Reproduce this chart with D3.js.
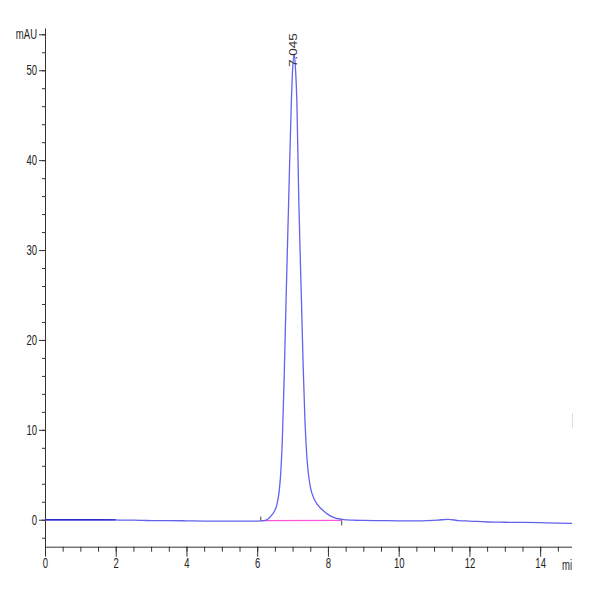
<!DOCTYPE html>
<html>
<head>
<meta charset="utf-8">
<script src="https://cdn.jsdelivr.net/npm/d3@7"></script>
<style>
  body { margin: 0; background: #ffffff; }
  text { font-family: "Liberation Sans Narrow", "Arial Narrow", "Liberation Sans", sans-serif; }
</style>
</head>
<body>
<div id="chart"></div>
<script>
// retention time (min) and signal (mAU)
var times = [0, 0.5, 1, 1.5, 2, 2.2, 2.5, 2.8, 3, 3.5, 4, 4.5, 5, 5.5, 6, 6.2, 6.3, 6.41, 6.55, 6.625,
  6.67, 6.71, 6.76, 6.816, 6.89, 6.967, 7.0, 7.045, 7.085, 7.12, 7.175, 7.25, 7.3, 7.35, 7.4, 7.45, 7.51,
  7.6, 7.7, 7.87, 8.0, 8.14, 8.39, 8.7, 9, 9.5, 10, 10.5, 10.8, 11.1, 11.4, 11.7, 12, 12.5, 13, 13.5,
  14, 14.5, 14.9];
var signal = [0, 0, 0, 0, -0.02, -0.05, -0.05, -0.08, -0.1, -0.1, -0.12, -0.15, -0.15, -0.15, -0.15, -0.1, 0.05, 0.5, 1.6, 3.3,
  5.5, 8.9, 15.5, 24.5, 35.6, 46.7, 50.0, 51.8, 50.0, 46.7, 35.6, 24.5, 17, 11, 7.2, 5.0, 3.5,
  2.4, 1.7, 1.0, 0.6, 0.3, 0.05, -0.05, -0.08, -0.1, -0.12, -0.12, -0.1, -0.05, 0.05, -0.1, -0.15, -0.25, -0.28, -0.3,
  -0.33, -0.37, -0.4];

// integration baseline of the peak
var baseTimes = [6.1, 8.39];
var baseValues = [-0.1, -0.08];

var peakLabel = "7.045";
var peakTime = 7.045;

var xMajorTicks = [0, 2, 4, 6, 8, 10, 12, 14];
var yMajorTicks = [0, 10, 20, 30, 40, 50];
var yUnitTick = 54;
var xUnit = "min";
var yUnit = "mAU";

function drawChromatogram() {
  var width = 600,
    height = 600;
  var left = 45,
    right = 572,
    top = 28,
    bottom = 546.7;
  var squeeze = 0.68; // narrow label font

  var svg = d3
    .select("#chart")
    .append("svg")
    .attr("width", width)
    .attr("height", height);

  var x = d3.scaleLinear().domain([0, 14.9]).range([left, right]);
  var y = d3.scaleLinear().domain([-3, 54.7]).range([bottom, top]);

  var axisColor = "#333333";

  // y axis - minor ticks every 2 mAU
  svg
    .append("g")
    .attr("transform", "translate(" + left + ",0)")
    .call(
      d3.axisLeft(y).tickValues(d3.range(-2, 55, 2)).tickSize(3).tickSizeOuter(0).tickFormat("")
    )
    .call(function (g) {
      g.selectAll("path, line").attr("stroke", axisColor);
    });

  // y axis - major ticks with labels
  var yMajor = svg
    .append("g")
    .attr("transform", "translate(" + left + ",0)")
    .call(
      d3.axisLeft(y).tickValues(yMajorTicks.concat([yUnitTick])).tickSize(6).tickSizeOuter(0)
        .tickFormat(function (d) {
          return d == yUnitTick ? yUnit : d;
        })
    );
  yMajor.select(".domain").remove();
  yMajor.selectAll("line").attr("stroke", axisColor);
  yMajor
    .selectAll("text")
    .attr("x", -8 / squeeze)
    .attr("transform", "scale(" + squeeze + ",1)")
    .attr("font-size", "14px")
    .attr("fill", "#222222");

  // x axis - minor ticks every 0.5 min
  svg
    .append("g")
    .attr("transform", "translate(0," + bottom + ")")
    .call(
      d3.axisBottom(x).tickValues(d3.range(0, 14.9, 0.5)).tickSize(5).tickSizeOuter(0).tickFormat("")
    )
    .call(function (g) {
      g.selectAll("path, line").attr("stroke", axisColor);
    });

  var xMajor = svg
    .append("g")
    .attr("transform", "translate(0," + bottom + ")")
    .call(d3.axisBottom(x).tickValues(xMajorTicks).tickSize(10).tickSizeOuter(0).tickPadding(1));
  xMajor.select(".domain").remove();
  xMajor.selectAll("line").attr("stroke", axisColor);
  xMajor
    .selectAll("text")
    .attr("transform", "scale(" + squeeze + ",1)")
    .attr("font-size", "14px")
    .attr("fill", "#222222");

  // unit on the x axis (cut by the frame edge)
  svg
    .append("text")
    .attr("transform", "translate(" + (right - 10) + "," + (bottom + 23) + ") scale(" + squeeze + ",1)")
    .attr("font-size", "14px")
    .attr("fill", "#222222")
    .text(xUnit);

  var data = times.map(function (t, i) {
    return { t: t, v: signal[i] };
  });

  var line = d3
    .line()
    .x(function (d) { return x(d.t); })
    .y(function (d) { return y(d.v); })
    .curve(d3.curveMonotoneX);

  // baseline
  svg
    .append("line")
    .attr("x1", x(baseTimes[0]))
    .attr("x2", x(baseTimes[1]))
    .attr("y1", y(baseValues[0]))
    .attr("y2", y(baseValues[1]))
    .attr("stroke", "#ff55dd")
    .attr("stroke-width", 1.3);

  // baseline start / end marks
  svg
    .append("line")
    .attr("x1", x(baseTimes[0]))
    .attr("x2", x(baseTimes[0]))
    .attr("y1", y(baseValues[0]))
    .attr("y2", y(baseValues[0]) - 4)
    .attr("stroke", "#444444");
  svg
    .append("line")
    .attr("x1", x(baseTimes[1]))
    .attr("x2", x(baseTimes[1]))
    .attr("y1", y(baseValues[1]))
    .attr("y2", y(baseValues[1]) + 5)
    .attr("stroke", "#444444");

  // signal trace
  svg
    .append("path")
    .datum(data)
    .attr("d", line)
    .attr("fill", "none")
    .attr("stroke", "#6262ee")
    .attr("stroke-width", 1.3);

  // darker start of the run
  svg
    .append("path")
    .datum(data.filter(function (d) { return d.t <= 2; }))
    .attr("d", line)
    .attr("fill", "none")
    .attr("stroke", "#2a2ac8")
    .attr("stroke-width", 1.3);

  // retention time label
  svg
    .append("text")
    .attr("transform", "translate(" + (x(peakTime) + 3) + "," + (y(signal[times.indexOf(peakTime)]) + 13) + ") rotate(-90)")
    .attr("font-size", "10px")
    .attr("textLength", 34)
    .attr("lengthAdjust", "spacingAndGlyphs")
    .attr("fill", "#333333")
    .text(peakLabel);

  // frame edge on the right
  svg
    .append("rect")
    .attr("x", right)
    .attr("y", 0)
    .attr("width", width - right)
    .attr("height", height)
    .attr("fill", "#ffffff");

  svg
    .append("line")
    .attr("x1", right + 0.5)
    .attr("x2", right + 0.5)
    .attr("y1", 413)
    .attr("y2", 428)
    .attr("stroke", "#dddddd");
}

drawChromatogram();
</script>
</body>
</html>
